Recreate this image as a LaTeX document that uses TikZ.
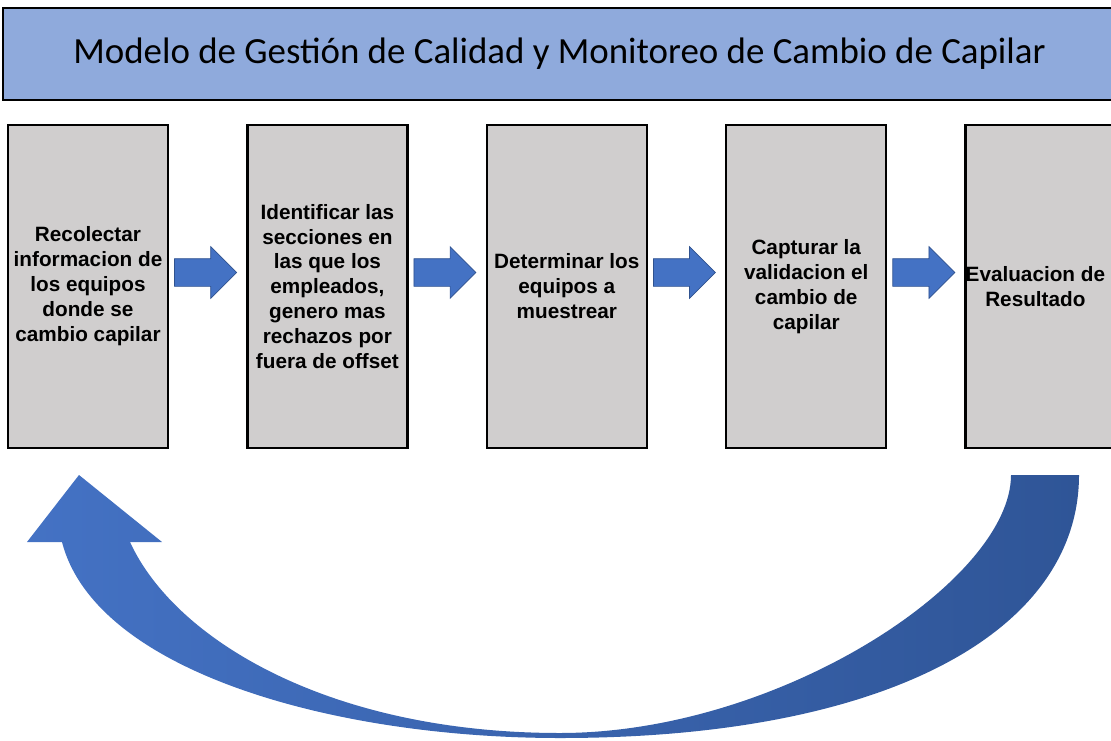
\documentclass[tikz,border=0pt]{standalone}
\usepackage{fontspec}
\setmainfont{Liberation Sans}
\newfontfamily\titlefont{Carlito}
\usepackage{tikz}
\usetikzlibrary{positioning,calc,shapes.arrows}

\definecolor{titleblue}{HTML}{8FAADC}
\definecolor{boxgray}{HTML}{D0CECE}
\definecolor{arrowblue}{HTML}{4472C4}
\definecolor{arrowline}{HTML}{2F528F}
\definecolor{loopdark}{HTML}{2F5597}

\begin{document}
\begin{tikzpicture}[x=0.02cm,y=-0.02cm,
  titlebox/.style={draw=black,line width=1.4pt,fill=titleblue,
    minimum width=22.26cm,minimum height=1.84cm,
    font=\titlefont\fontsize{21}{25}\selectfont},
  stepbox/.style={draw=black,line width=1.4pt,fill=boxgray,
    minimum width=3.2cm,minimum height=6.46cm,inner sep=0pt,align=center,
    font=\bfseries\fontsize{11.8}{14.2}\selectfont},
  flowarrow/.style={single arrow,draw=arrowline,line width=0.4pt,fill=arrowblue,
    minimum height=1.24cm,inner sep=0pt,text height=0.27cm,text depth=0.27cm,
    single arrow head extend=0.24cm,single arrow tip angle=90,anchor=tail}]
  \useasboundingbox (0,0) rectangle (1111,740);
  % title bar
  \node[titlebox] (title) at (559.5,54)
    {Modelo de Gestión de Calidad y Monitoreo de Cambio de Capilar};
  % steps
  \node[stepbox] (b1) at (88,286.5)
    {Recolectar\\informacion de\\los equipos\\donde se\\cambio capilar};
  \node[stepbox] (b2) [right=1.54cm of b1]
    {Identificar las\\secciones en\\las que los\\empleados,\\genero mas\\rechazos por\\fuera de offset};
  \node[stepbox] (b3) [right=1.54cm of b2]
    {Determinar los\\equipos a\\muestrear};
  \node[stepbox] (b4) [right=1.54cm of b3]
    {Capturar la\\validacion el\\cambio de\\capilar};
  \node[stepbox] (b5) [right=1.54cm of b4]
    {Evaluacion de\hspace*{0.62cm}\\Resultado\hspace*{0.62cm}};
  % block arrows between steps
  \node[flowarrow] (a1) at ($(b1.east)+(5,-14)$) {};
  \node[flowarrow] (a2) at ($(b2.east)+(5,-14)$) {};
  \node[flowarrow] (a3) at ($(b3.east)+(5,-14)$) {};
  \node[flowarrow] (a4) at ($(b4.east)+(5,-14)$) {};
  % feedback loop: Resultado back to the first step
  \shade[left color=arrowblue,right color=loopdark]
    (1079,475) .. controls (1079,630) and (890,738) .. (560,738)
    .. controls (330,738) and (95,670) .. (62,542)
    -- (27,542) -- (79,475) -- (162,542) -- (130,542)
    .. controls (175,640) and (330,733) .. (560,733)
    .. controls (780,733) and (1011,580) .. (1011,475) -- cycle;
\end{tikzpicture}
\end{document}
